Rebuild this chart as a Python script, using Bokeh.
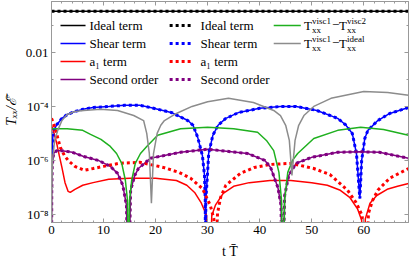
from bokeh.plotting import figure
from bokeh.models import Range1d, FixedTicker, LinearAxis, LogAxis, Label, Arrow, CustomJSTickFormatter
from bokeh.embed import file_html
from bokeh.resources import INLINE

FONT = "Liberation Serif"

# ---------------- data ----------------
ideal_t = [0.0, 68.6]
ideal_v = [0.3333, 0.3333]

shear_t = [0.02, 0.3, 1.0, 2.0, 3.0, 4.5, 6.0, 8.0, 11.0, 14.0, 17.0, 19.0, 23.0, 26.2, 27.2, 28.1,
           29.0, 29.4, 29.55, 29.6, 29.65, 29.9, 30.2, 31.0, 32.0, 33.5, 36.0, 40.0, 44.0, 47.0,
           51.0, 55.0, 56.5, 57.8, 58.6, 59.25, 59.6, 60.2, 60.8, 62.7, 65.0, 68.6]
shear_v = [1.0e-6, 1.1e-5, 2.1e-5, 3.6e-5, 5.0e-5, 6.5e-5, 7.8e-5, 9.1e-5, 1.0e-4, 1.1e-4, 1.1e-4, 9.1e-5,
           6.0e-5, 3.0e-5, 2.0e-5, 7.1e-6, 1.5e-6, 2.8e-7, 3.3e-8, 1e-11, 3.3e-8, 1.8e-7, 1.8e-6, 8.5e-6,
           2.0e-5, 3.6e-5, 6.0e-5, 8.5e-5, 1.0e-4, 1.0e-4, 7.1e-5, 3.6e-5, 2.1e-5, 1.0e-5, 1.8e-6,
           3.9e-8, 1.0e-6, 6.5e-6, 1.3e-5, 3.0e-5, 5.5e-5, 9.1e-5]

a1_t = [0.0, 0.5, 1.0, 1.5, 2.0, 2.6, 3.2, 3.6, 4.5, 6.0, 8.0, 11.0, 15.0, 20.0, 24.0, 26.0, 27.5,
        28.8, 29.8, 30.3, 30.8, 31.5, 33.0, 35.0, 38.0, 42.0, 46.0, 50.0, 53.0, 55.5, 57.3, 58.8,
        59.6, 59.9, 60.3, 61.2, 62.5, 64.5, 66.5, 68.6]
a1_v = [2.0e-5, 1.0e-5, 4.3e-6, 1.5e-6, 5.5e-7, 1.5e-7, 7.1e-8, 6.5e-8, 8.5e-8, 1.2e-7, 1.5e-7, 2.0e-7,
        2.2e-7, 2.2e-7, 1.8e-7, 1.2e-7, 6.5e-8, 2.6e-8, 9.1e-9, 1e-11, 9.1e-9, 2.2e-8, 6.0e-8, 1.1e-7,
        1.5e-7, 1.8e-7, 1.8e-7, 1.5e-7, 1.2e-7, 7.8e-8, 4.3e-8, 1.6e-8, 6.0e-9, 1e-11, 6.8e-9, 2.6e-8,
        5.0e-8, 8.5e-8, 1.1e-7, 1.4e-7]

a1d_t = [0.0, 0.3, 0.8, 1.7, 2.5, 3.2, 4.5, 6.3, 8.0, 10.0, 13.0, 17.0, 21.5, 24.5, 26.7, 29.0, 30.5,
         31.2, 31.5, 31.9, 32.5, 33.5, 36.3, 39.0, 42.1, 46.0, 50.4, 53.5, 56.9, 58.5, 59.7, 60.4,
         60.9, 61.7, 62.7, 65.0, 68.6]
a1d_v = [3.6e-5, 2.6e-5, 1.3e-5, 3.0e-6, 1.5e-6, 1.0e-6, 6.0e-7, 4.3e-7, 5.0e-7, 6.0e-7, 7.8e-7, 8.5e-7,
         5.5e-7, 3.6e-7, 2.2e-7, 9.1e-8, 2.2e-8, 6.8e-9, 1e-11, 1.1e-8, 4.3e-8, 1.2e-7, 3.3e-7, 5.5e-7,
         7.1e-7, 7.8e-7, 5.0e-7, 3.0e-7, 7.8e-8, 2.8e-8, 9.1e-9, 1e-11, 1.1e-8, 3.3e-8, 7.8e-8, 2.2e-7,
         5.0e-7]

second_t = [0.0, 0.05, 0.15, 0.4, 1.0, 2.0, 4.0, 6.2, 9.0, 11.3, 12.7, 13.7, 14.4, 14.8, 15.2, 16.0,
            16.7, 19.0, 24.8, 30.0, 37.7, 41.0, 42.1, 43.5, 44.1, 44.4, 44.8, 45.6, 47.0, 50.0, 55.0,
            59.4, 63.0, 68.6]
second_v = [1e-11, 7.8e-8, 6.5e-7, 1.8e-6, 2.3e-6, 2.3e-6, 2.0e-6, 1.4e-6, 1.0e-6, 6.0e-7, 3.3e-7,
            1.2e-7, 2.2e-8, 1e-11, 7.8e-8, 2.8e-7, 5.0e-7, 1.2e-6, 2.0e-6, 2.6e-6, 1.8e-6, 1.0e-6,
            5.5e-7, 1.0e-7, 2.2e-8, 1e-11, 5.0e-8, 2.8e-7, 7.8e-7, 1.3e-6, 2.0e-6, 2.1e-6, 2.0e-6, 1.2e-6]

green_t = [0.0, 3.0, 6.0, 7.5, 9.5, 11.3, 12.5, 13.5, 14.2, 14.6, 14.8, 15.0, 15.4, 16.1, 17.1, 18.3,
           20.4, 24.8, 30.0, 35.0, 39.6, 41.3, 42.7, 43.7, 44.2, 44.5, 44.8, 45.4, 46.3, 47.3, 50.4,
           55.0, 59.4, 63.8, 68.6]
green_v = [1.5e-5, 1.5e-5, 1.3e-5, 9.2e-6, 6.0e-6, 3.3e-6, 1.8e-6, 7.8e-7, 1.8e-7, 3.3e-8, 1e-11, 3.3e-8,
           1.8e-7, 7.8e-7, 1.8e-6, 3.3e-6, 8.5e-6, 1.5e-5, 1.7e-5, 1.5e-5, 1.1e-5, 5.5e-6, 2.3e-6,
           3.6e-7, 3.3e-8, 1e-11, 3.3e-8, 3.6e-7, 1.0e-6, 1.8e-6, 6.5e-6, 1.3e-5, 1.7e-5, 1.4e-5, 8.5e-6]

gray_t = [0.0, 0.05, 0.2, 0.6, 1.2, 2.0, 3.0, 4.5, 6.2, 9.4, 12.7, 15.8, 17.7, 18.3, 18.8, 19.2, 19.6,
          20.3, 21.0, 21.7, 24.0, 27.0, 30.0, 34.0, 38.8, 42.7, 44.0, 45.0, 45.7, 46.2, 46.8, 47.5,
          48.5, 50.4, 53.7, 60.0, 64.6, 68.6]
gray_v = [1e-11, 7.8e-8, 1.0e-6, 5.5e-6, 1.3e-5, 3.0e-5, 5.0e-5, 6.5e-5, 7.1e-5, 7.8e-5, 7.1e-5, 4.6e-5,
          3.0e-5, 1.0e-5, 1.8e-6, 2.6e-8, 1.8e-6, 1.0e-5, 2.0e-5, 3.0e-5, 5.5e-5, 1.0e-4, 1.5e-4,
          2.0e-4, 1.4e-4, 7.1e-5, 4.6e-5, 2.0e-5, 5.5e-6, 2.8e-7, 5.5e-6, 2.0e-5, 4.6e-5, 1.0e-4,
          2.0e-4, 3.6e-4, 3.3e-4, 2.6e-4]

x_major = [0, 10, 20, 30, 40, 50, 60]
x_minor = [v for v in range(0, 70, 2) if v % 10 != 0]
y_major = [1e-8, 1e-6, 1e-4, 1e-2]
y_minor = [1e-7, 1e-5, 1e-3, 1e-1]
y_labels = {1e-2: "0.01", 1e-4: "10\u207b\u2074", 1e-6: "10\u207b\u2076", 1e-8: "10\u207b\u2078"}

BLUE, RED, PURPLE, GREEN, GRAY = "#0000ff", "#ff0000", "#800080", "#1fb01f", "#8c8c8c"

# ---------------- figure ----------------
p = figure(width=411, height=263, output_backend="svg", toolbar_location=None,
           x_range=Range1d(0, 68.6), y_range=Range1d(5.0e-9, 0.774), y_axis_type="log",
           min_border_left=51, min_border_right=3, min_border_top=1, min_border_bottom=41)
p.xgrid.visible = False
p.ygrid.visible = False
p.outline_line_color = "#999999"
p.background_fill_color = "white"

xt = FixedTicker(ticks=x_major, minor_ticks=x_minor)
yt = FixedTicker(ticks=y_major, minor_ticks=y_minor)

def style(ax):
    ax.axis_line_color = "#999999"
    ax.major_tick_line_color = "#999999"
    ax.minor_tick_line_color = "#999999"
    ax.major_tick_in = 4
    ax.major_tick_out = 0
    ax.minor_tick_in = 2
    ax.minor_tick_out = 0
    ax.major_label_text_font = FONT
    ax.major_label_text_font_size = "13px"
    ax.major_label_text_color = "black"
    ax.axis_label_text_font = FONT
    ax.axis_label_text_font_size = "14px"
    ax.axis_label_text_color = "black"

bx = p.xaxis[0]
ly = p.yaxis[0]
bx.ticker = xt
ly.ticker = yt
style(bx)
style(ly)
ly.major_label_overrides = y_labels
bx.major_label_standoff = 3
ly.major_label_standoff = 3
bx.axis_label = "t T\u0304"
bx.axis_label_text_font_style = "normal"
bx.axis_label_standoff = 7
ly.axis_label = "T\u2093\u2093/\u2130\u0304"
ly.axis_label_text_font_style = "italic"
ly.axis_label_standoff = 4

tx = LinearAxis(ticker=xt, formatter=CustomJSTickFormatter(code="return ''"))
style(tx)
tx.major_label_text_font_size = "1px"
tx.major_label_standoff = 0
p.add_layout(tx, "above")
ry = LogAxis(ticker=yt, formatter=CustomJSTickFormatter(code="return ''"))
style(ry)
ry.major_label_text_font_size = "1px"
ry.major_label_standoff = 0
p.add_layout(ry, "right")

# ---------------- curves ----------------
p.line(ideal_t, ideal_v, line_color="black", line_width=1.5)
p.line(shear_t, shear_v, line_color=BLUE, line_width=1.5)
p.line(a1_t, a1_v, line_color=RED, line_width=1.5)
p.line(second_t, second_v, line_color=PURPLE, line_width=1.5)
p.line(ideal_t, ideal_v, line_color="black", line_width=3, line_dash="3 3")
p.line(shear_t, shear_v, line_color=BLUE, line_width=3, line_dash="3 3")
p.line(a1d_t, a1d_v, line_color=RED, line_width=3, line_dash="3 3")
p.line(second_t, second_v, line_color=PURPLE, line_width=3, line_dash="3 3")
p.line(green_t, green_v, line_color=GREEN, line_width=1.5)
p.line(gray_t, gray_v, line_color=GRAY, line_width=1.5)

# ---------------- legend (custom, three columns) ----------------
rows = [10 ** -1.0, 10 ** -1.667, 10 ** -2.333, 10 ** -3.0]
col1 = dict(x0=1.73, x1=6.54, tx=7.3)
col2 = dict(x0=22.7, x1=27.3, tx=28.65)
col3 = dict(x0=42.7, x1=47.9, tx=48.5)

def sample(col, row, color, width, dash="solid"):
    p.add_layout(Arrow(end=None, start=None, x_start=col["x0"], y_start=row, x_end=col["x1"], y_end=row,
                       line_color=color, line_width=width, line_dash=dash))

def text(x, y, s, size="13px", xo=0, yo=0):
    p.add_layout(Label(x=x, y=y, text=s, text_font=FONT, text_font_size=size,
                       text_baseline="middle", text_align="left", x_offset=xo, y_offset=yo,
                       text_color="black"))

names = ["Ideal term", "Shear term", "a\u2081 term", "Second order"]
colors = ["black", BLUE, RED, PURPLE]
for r, n, c in zip(rows, names, colors):
    sample(col1, r, c, 1.5)
    text(col1["tx"], r, n)
    sample(col2, r, c, 3, "3 3")
    text(col2["tx"], r, n)

for r, c, sup2 in [(rows[0], GREEN, "visc2"), (rows[1], GRAY, "ideal")]:
    sample(col3, r, c, 1.5)
    x = col3["tx"]
    text(x, r, "T")
    text(x, r, "visc1", "9px", 8, 4)
    text(x, r, "xx", "9px", 8, -5)
    text(x, r, "\u2212", "13px", 28, 0)
    text(x, r, "T", "13px", 35, 0)
    text(x, r, sup2, "9px", 43, 4)
    text(x, r, "xx", "9px", 43, -5)

open("out.html", "w").write(file_html(p, INLINE))
